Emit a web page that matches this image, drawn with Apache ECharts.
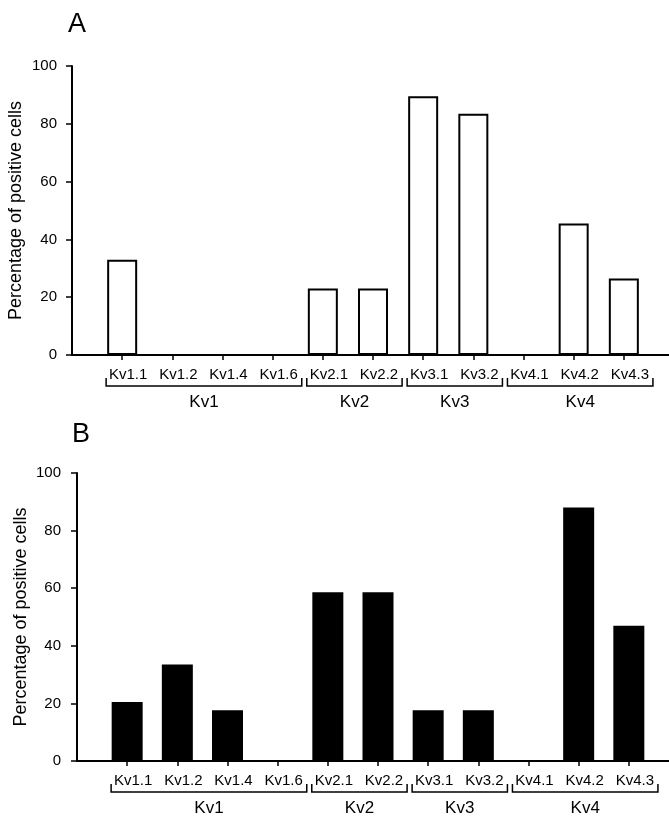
<!DOCTYPE HTML>
<html><head>
<meta charset="utf-8">
<title>Kv subunits</title>
<script src="https://cdn.jsdelivr.net/npm/echarts@6/dist/echarts.min.js"></script>
<style>
body { margin:0; background:#fff; }
#main_echarts { width:669px; height:818px; }
</style>
</head>
<body>
<div id="main_echarts"></div>

<script type="text/javascript">
// subunits on the x axis
var subtypes = ['Kv1.1', 'Kv1.2', 'Kv1.4', 'Kv1.6', 'Kv2.1', 'Kv2.2', 'Kv3.1', 'Kv3.2', 'Kv4.1', 'Kv4.2', 'Kv4.3'];
// percentage of positive cells, panel A (open bars) and B (filled bars)
var positiveA = [33, 0, 0, 0, 23, 23, 89.5, 83.5, 0, 45.5, 26.5];
var positiveB = [20.5, 33.5, 17.6, 0, 58.6, 58.6, 17.6, 17.6, 0, 88, 47];
// families under the brackets (index of first / last subunit)
var families = ['Kv1', 'Kv2', 'Kv3', 'Kv4'];
var familyFirst = [0, 4, 6, 8];
var familyLast = [3, 5, 7, 10];
var yTicks = [0, 20, 40, 60, 80, 100];

var font = '"Liberation Sans", Arial, sans-serif';

// one empty slot at each end so the ticks sit away from the y axis
var axisCats = [''].concat(subtypes, ['']);
function pad(arr) { return ['-'].concat(arr, ['-']); }

function bracketItem(params, api) {
    var i = params.dataIndex;
    var p1 = api.coord([familyFirst[i] + 1, 0]);
    var p2 = api.coord([familyLast[i] + 1, 0]);
    var bw = api.size([1, 0])[0];
    var x1 = p1[0] - 0.32 * bw;
    var x2 = p2[0] + 0.58 * bw;
    var y = p1[1] + 31;
    return {
        type: 'group',
        children: [
            {
                type: 'polyline',
                shape: { points: [[x1, y - 8], [x1, y], [x2, y], [x2, y - 8]] },
                style: { stroke: '#000', lineWidth: 1.5, fill: null }
            },
            {
                type: 'text',
                style: {
                    text: families[i], x: (x1 + x2) / 2, y: y + 16,
                    align: 'center', verticalAlign: 'middle',
                    fontSize: 17, fontFamily: font, fill: '#000'
                }
            }
        ]
    };
}

function xAxisFor(idx) {
    return {
        type: 'category', gridIndex: idx, data: axisCats, boundaryGap: false,
        axisLine: { lineStyle: { color: '#000', width: 2 } },
        axisTick: {
            length: 5, lineStyle: { color: '#000', width: 1.5 },
            interval: function (i) { return i > 0 && i < axisCats.length - 1; }
        },
        axisLabel: {
            interval: 0, color: '#000', fontSize: 15, fontFamily: font,
            margin: 12, padding: [0, 0, 0, 12]
        },
        splitLine: { show: false }
    };
}

function yAxisFor(idx, labelGap, titleGap) {
    return {
        type: 'value', gridIndex: idx, min: yTicks[0], max: yTicks[yTicks.length - 1], interval: 20,
        name: 'Percentage of positive cells', nameLocation: 'middle', nameGap: titleGap,
        nameMoveOverlap: false,
        nameTextStyle: { color: '#000', fontSize: 18, fontFamily: font },
        axisLine: { show: true, lineStyle: { color: '#000', width: 2 } },
        axisTick: { show: true, length: 6, lineStyle: { color: '#000', width: 1.5 } },
        axisLabel: { color: '#000', fontSize: 15, fontFamily: font, margin: labelGap },
        splitLine: { show: false }
    };
}

var myChart = echarts.init(document.getElementById('main_echarts'), null, { renderer: 'canvas' });

option = {
    backgroundColor: '#fff',
    animation: false,
    title: [
        { text: 'A', left: 63, top: 6, textStyle: { fontSize: 27, fontWeight: 'normal', color: '#000', fontFamily: font } },
        { text: 'B', left: 67, top: 416, textStyle: { fontSize: 27, fontWeight: 'normal', color: '#000', fontFamily: font } }
    ],
    grid: [
        { left: 72, right: -5, top: 66, height: 289, outerBoundsMode: 'none' },
        { left: 77, right: -10, top: 473, height: 288, outerBoundsMode: 'none' }
    ],
    xAxis: [xAxisFor(0), xAxisFor(1)],
    yAxis: [yAxisFor(0, 15, 47), yAxisFor(1, 16, 47)],
    series: [
        {
            name: 'A', type: 'bar', xAxisIndex: 0, yAxisIndex: 0, barWidth: 30,
            data: pad(positiveA),
            itemStyle: { color: '#fff', borderColor: '#000', borderWidth: 2 }
        },
        {
            name: 'B', type: 'bar', xAxisIndex: 1, yAxisIndex: 1, barWidth: 31,
            data: pad(positiveB),
            itemStyle: { color: '#000' }
        },
        {
            type: 'custom', xAxisIndex: 0, yAxisIndex: 0, clip: false, silent: true,
            renderItem: bracketItem,
            data: families.map(function (f, i) { return [familyFirst[i] + 1, 0]; })
        },
        {
            type: 'custom', xAxisIndex: 1, yAxisIndex: 1, clip: false, silent: true,
            renderItem: bracketItem,
            data: families.map(function (f, i) { return [familyFirst[i] + 1, 0]; })
        }
    ]
};

myChart.setOption(option);
</script>
</body>
</html>
